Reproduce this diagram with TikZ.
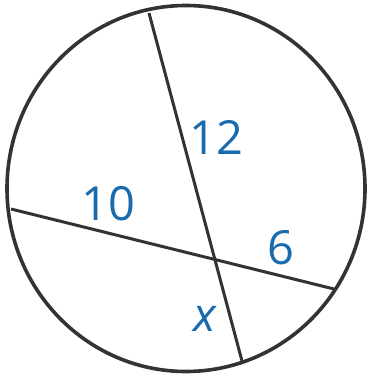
\documentclass[tikz,border=0pt]{standalone}
\usepackage{fontspec}
\setmainfont{Open Sans}
\usepackage{tikz}
\usetikzlibrary{calc}
\definecolor{lbl-blau}{rgb}{.10,.42,.68}
\definecolor{traç}{rgb}{.2,.2,.2}

\begin{document}
\begin{tikzpicture}[x=1pt, y=-1pt,
	   ln/.style={draw=traç, line width=3pt},
	   lbl/.style={text=lbl-blau, inner sep=0pt, font=\fontsize{47}{50}\selectfont}]
	  \useasboundingbox (0,0) rectangle (370,374);
	  \draw[ln, line width=3.6pt] (186,188.5) ellipse [x radius=179, y radius=183];
	  \coordinate (T) at (149,13);
	  \coordinate (B) at (242,361);
	  \coordinate (L) at (11,209);
	  \coordinate (R) at (334,289);
	  \draw[ln] (T)--(B);
	  \draw[ln] (L)--(R);
	  \node[lbl] (n12) at (216,137) {12};
	  \node[lbl] (n10) at (108,204) {10};
	  \node[lbl] (n6) at (281,248) {6};
	  \node[lbl] (nx) at (205,319) {\itshape x};
	\end{tikzpicture}
\end{document}
